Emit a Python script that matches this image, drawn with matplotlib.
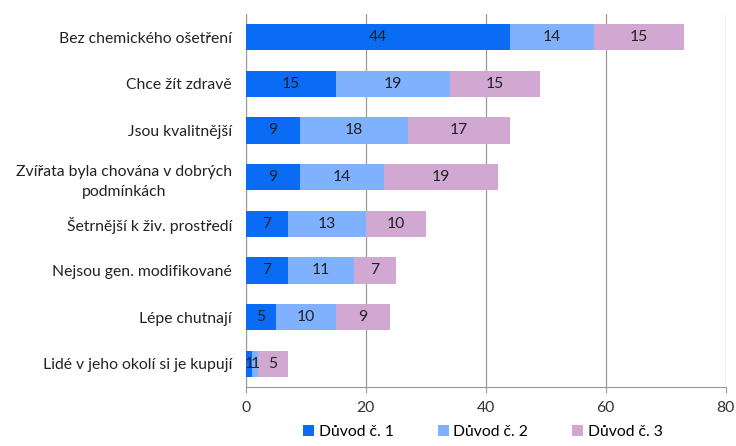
import matplotlib
matplotlib.use("Agg")
import matplotlib.pyplot as plt
import numpy as np

categories = [
    "Bez chemického ošetření",
    "Chce žít zdravě",
    "Jsou kvalitnější",
    "Zvířata byla chována v dobrých\npodmínkách",
    "Šetrnější k živ. prostředí",
    "Nejsou gen. modifikované",
    "Lépe chutnají",
    "Lidé v jeho okolí si je kupují",
]
duvod1 = [44, 15, 9, 9, 7, 7, 5, 1]
duvod2 = [14, 19, 18, 14, 13, 11, 10, 1]
duvod3 = [15, 15, 17, 19, 10, 7, 9, 5]
series_names = ["Důvod č. 1", "Důvod č. 2", "Důvod č. 3"]
colors = ["#0a6cf5", "#80b1ff", "#d0a8d2"]
xticks = [0, 20, 40, 60, 80]

plt.rcParams['font.family'] = ['Lato', 'DejaVu Sans']
FS = 11.3
fig = plt.figure(figsize=(7.36, 4.46), dpi=100)
ax = fig.add_axes([0.334, 0.132, 0.652, 0.837])

y = np.arange(len(categories))
left = np.zeros(len(categories))
for vals, name, c in zip([duvod1, duvod2, duvod3], series_names, colors):
    vals = np.array(vals, dtype=float)
    ax.barh(y, vals, left=left, height=0.56, color=c, label=name, zorder=3)
    for yi, l, v in zip(y, left, vals):
        ax.text(l + v / 2, yi, f"{int(v)}", ha="center", va="center",
                fontsize=FS, color="#222222", zorder=4)
    left += vals

ax.set_ylim(len(categories) - 0.5, -0.5)
ax.set_xlim(0, 80)
ax.set_xticks(xticks)
ax.set_xticklabels([str(t) for t in xticks], fontsize=FS, color="#333333")
ax.set_yticks(y)
ax.set_yticklabels(categories, fontsize=FS, color="#222222", ha="right",
                   multialignment="center", linespacing=1.55)
ax.tick_params(axis="y", length=0, pad=10)
ax.tick_params(axis="x", length=4, color="#999999", pad=6)
ax.grid(axis="x", color="#9a9a9a", linewidth=0.9, zorder=0)
for s in ["top", "right"]:
    ax.spines[s].set_visible(False)
for s in ["left", "bottom"]:
    ax.spines[s].set_color("#999999")

fig.legend(loc="lower center", bbox_to_anchor=(0.656, -0.015), ncol=3, frameon=False,
           fontsize=FS, handlelength=0.7, handleheight=0.7, columnspacing=2.8,
           handletextpad=0.3)
fig.savefig("out.png", dpi=100)
